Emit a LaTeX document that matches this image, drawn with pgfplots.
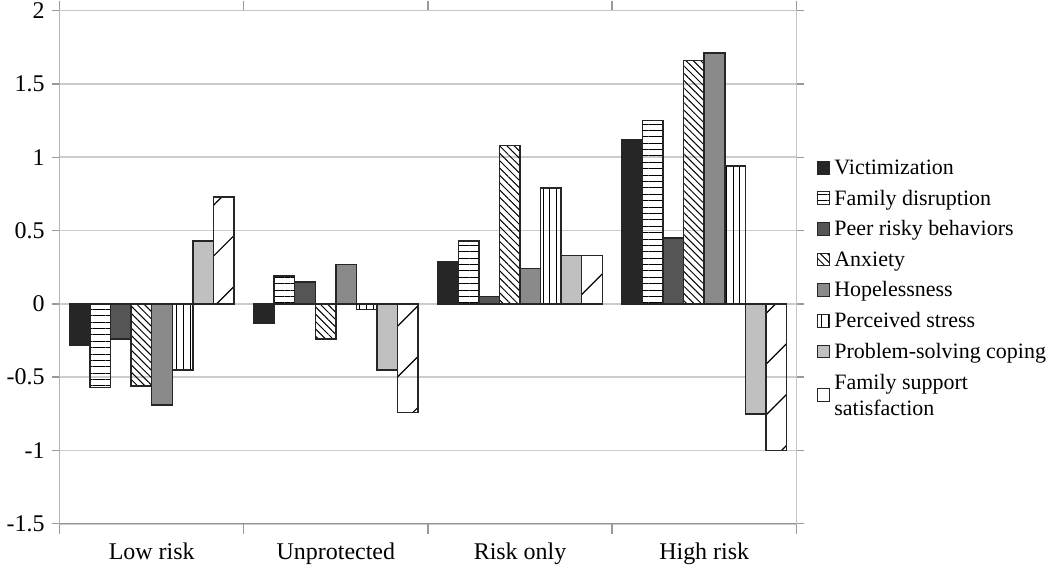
\documentclass[border=0pt]{standalone}
\usepackage{pgfplots}
\pgfplotsset{compat=1.18}
\usepackage{fontspec}
\setmainfont{Liberation Serif}
\usetikzlibrary{patterns.meta}
\definecolor{cVic}{HTML}{262626}
\definecolor{cPeer}{HTML}{555555}
\definecolor{cHope}{HTML}{8A8A8A}
\definecolor{cProb}{HTML}{C0C0C0}
\begin{document}
\begin{tikzpicture}
\begin{axis}[
  scale only axis,
  width=369pt, height=257pt,
  ybar=0pt, bar width=10.3pt,
  xmin=-0.5, xmax=3.5,
  ymin=-1.5, ymax=2,
  xtick={0,1,2,3},
  xticklabels={Low risk,Unprotected,Risk only,High risk},
  minor xtick={-0.5,0.5,1.5,2.5,3.5},
  xtick style={draw=none},
  minor x tick style={draw=gray!80, line width=0.7pt},
  minor tick length=5pt,
  ytick={-1.5,-1,-0.5,0,0.5,1,1.5,2},
  yticklabels={-1.5,-1,-0.5,0,0.5,1,1.5,2},
  ytick style={draw=gray!80, line width=0.7pt},
  major tick length=4pt,
  tick align=outside,
  ymajorgrids,
  grid style={draw=gray!40, line width=0.8pt},
  axis line style={draw=gray!45, line width=0.6pt},
  xticklabel style={font=\fontsize{12}{14}\selectfont, yshift=-2pt},
  yticklabel style={font=\fontsize{12}{14}\selectfont, inner ysep=0pt},
  legend style={at={(1.027,0.718)}, anchor=north west, draw=none, fill=none,
    font=\fontsize{11}{13}\selectfont, cells={anchor=west, align=left, inner xsep=2pt},
    row sep=2.3pt, inner sep=0pt},
  legend image code/.code={\draw[#1, line width=0.5pt] (0pt,-2.8pt) rectangle (6.4pt,3.6pt);},
]
\addplot[draw=black!85, line width=0.75pt, fill=cVic] coordinates {(0,-0.28) (1,-0.13) (2,0.29) (3,1.12)};
\addlegendentry{Victimization}
\addplot[draw=black!85, line width=0.75pt, pattern={Lines[angle=0,distance=3.2pt,line width=0.5pt]}] coordinates {(0,-0.57) (1,0.19) (2,0.43) (3,1.25)};
\addlegendentry{Family disruption}
\addplot[draw=black!85, line width=0.75pt, fill=cPeer] coordinates {(0,-0.24) (1,0.15) (2,0.05) (3,0.45)};
\addlegendentry{Peer risky behaviors}
\addplot[draw=black!85, line width=0.75pt, pattern={Lines[angle=-45,distance=2.6pt,line width=0.5pt]}] coordinates {(0,-0.56) (1,-0.24) (2,1.08) (3,1.66)};
\addlegendentry{Anxiety}
\addplot[draw=black!85, line width=0.75pt, fill=cHope] coordinates {(0,-0.69) (1,0.27) (2,0.24) (3,1.71)};
\addlegendentry{Hopelessness}
\addplot[draw=black!85, line width=0.75pt, pattern={Lines[angle=90,distance=3.4pt,line width=0.5pt]}] coordinates {(0,-0.45) (1,-0.04) (2,0.79) (3,0.94)};
\addlegendentry{Perceived stress}
\addplot[draw=black!85, line width=0.75pt, fill=cProb] coordinates {(0,0.43) (1,-0.45) (2,0.33) (3,-0.75)};
\addlegendentry{Problem-solving coping}
\addplot[draw=black!85, line width=0.75pt, pattern={Lines[angle=45,distance=18pt,line width=0.6pt]},
  legend image code/.code={\draw[black!85, fill=white, line width=0.5pt] (0pt,-2.8pt) rectangle (6.4pt,3.6pt);}] coordinates {(0,0.73) (1,-0.74) (2,0.33) (3,-1.0)};
\addlegendentry{Family support\\satisfaction}
\draw[gray!85, line width=0.7pt] (rel axis cs:0,1) -- (rel axis cs:0,0) -- (rel axis cs:1,0);
\end{axis}
\end{tikzpicture}
\end{document}
